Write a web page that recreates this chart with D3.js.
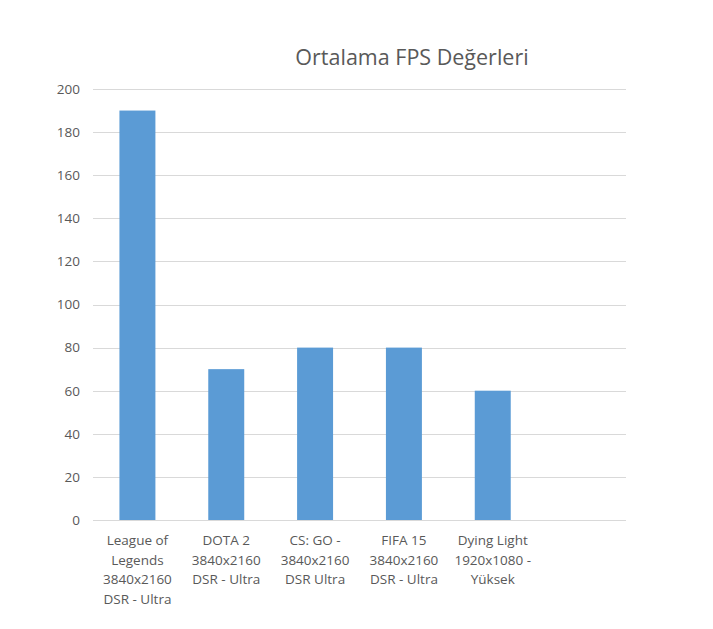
<!DOCTYPE html>
<html>
<head>
<meta charset="utf-8">
<script src="https://cdn.jsdelivr.net/npm/d3@7"></script>
<style>
	body { margin: 0; background: #fff; }
	text { font-family: "Open Sans", "Noto Sans", sans-serif; fill: #595959; }
	.grid line { stroke: #d9d9d9; stroke-width: 1; }
</style>
</head>
<body>
<div id="chart"></div>
<script>
var categories = [
	["League of", "Legends", "3840x2160", "DSR - Ultra"],
	["DOTA 2", "3840x2160", "DSR - Ultra"],
	["CS: GO -", "3840x2160", "DSR Ultra"],
	["FIFA 15", "3840x2160", "DSR - Ultra"],
	["Dying Light", "1920x1080 -", "Yüksek"],
	[]
]
var fpsValues = [190, 70, 80, 80, 60, null]
var yTicks = [0, 20, 40, 60, 80, 100, 120, 140, 160, 180, 200]
var title = "Ortalama FPS Değerleri"

var width = 713, height = 629
var margins = {left: 93, right: 87, top: 89, bottom: 109}
var plot_w = width - margins.left - margins.right
var plot_h = height - margins.top - margins.bottom

var svg = d3.select("#chart")
	.append("svg")
		.attr("width", width)
		.attr("height", height)

svg.append("text")
	.attr("x", 412)
	.attr("y", 65)
	.style("text-anchor", "middle")
	.style("font-size", "21.5px")
	.text(title)

var chart = svg.append("g")
	.attr("transform", "translate(" + margins.left + ", " + margins.top + ")")

var idx = categories.map((c, i) => i)
var x = d3.scaleBand().domain(idx).range([0, plot_w]).paddingInner(0.595).paddingOuter(0.2975)
var y = d3.scaleLinear().domain([0, 200]).range([plot_h, 0])

// gridlines
chart.append("g")
	.attr("class", "grid")
	.selectAll("line")
	.data(yTicks)
	.enter()
	.append("line")
		.attr("x1", 0)
		.attr("x2", plot_w)
		.attr("y1", (d) => Math.round(y(d)) + 0.5)
		.attr("y2", (d) => Math.round(y(d)) + 0.5)

// y axis labels
var yAxis = d3.axisLeft(y).tickValues(yTicks).tickSize(0).tickPadding(13)
var yg = chart.append("g").call(yAxis)
yg.select(".domain").remove()
yg.selectAll("text").style("font-size", "13.5px").style("fill", "#595959").style("font-family", "'Open Sans', sans-serif")

// bars
chart.selectAll("rect.bar")
	.data(fpsValues.map((v, i) => ({i, v})).filter((d) => d.v != null))
	.enter()
	.append("rect")
		.attr("class", "bar")
		.attr("x", (d) => x(d.i))
		.attr("width", x.bandwidth())
		.attr("y", (d) => y(d.v))
		.attr("height", (d) => plot_h - y(d.v))
		.attr("fill", "#5b9bd5")

// category labels
var labels = chart.selectAll("text.cat")
	.data(categories)
	.enter()
	.append("text")
		.attr("class", "cat")
		.attr("transform", (d, i) => "translate(" + (x(i) + x.bandwidth() / 2) + ", " + (plot_h + 25) + ")")
		.style("text-anchor", "middle")
		.style("font-size", "13.5px")
labels.selectAll("tspan")
	.data((d) => d)
	.enter()
	.append("tspan")
		.attr("x", 0)
		.attr("dy", (d, i) => i == 0 ? 0 : 19.5)
		.text((d) => d)
</script>
</body>
</html>
